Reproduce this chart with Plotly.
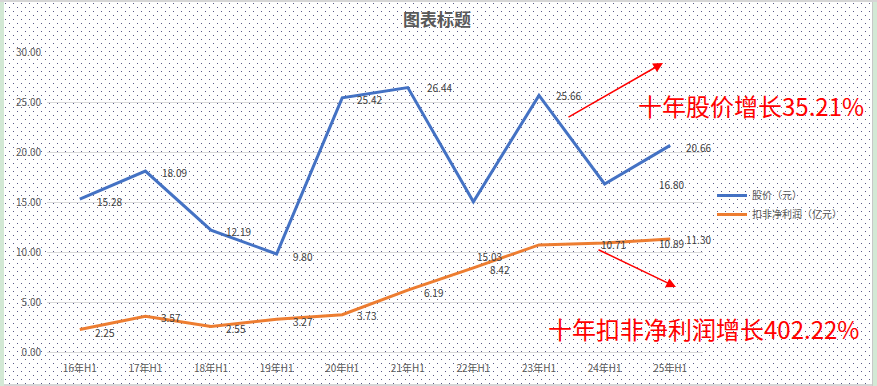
import base64
import plotly.graph_objects as go

# ---------------- data ----------------
categories = ["16年H1", "17年H1", "18年H1", "19年H1", "20年H1",
              "21年H1", "22年H1", "23年H1", "24年H1", "25年H1"]
price = [15.28, 18.09, 12.19, 9.80, 25.42, 26.44, 15.03, 25.66, 16.80, 20.66]
profit = [2.25, 3.57, 2.55, 3.27, 3.73, 6.19, 8.42, 10.71, 10.89, 11.30]
series_names = ["股价（元）", "扣非净利润（亿元）"]
title_text = "图表标题"
note_price = "十年股价增长35.21%"
note_profit = "十年扣非净利润增长402.22%"

# label pixel offsets (dx right, dy down) as placed in the original chart
price_label_dx = [15, 15, 13, 14, 13, 17, 2, 15, 52, 14]
price_label_dy = [2, 1, 1, 2, 2, 0, 55, 0, 0, 2]
profit_label_dx = [13, 14, 13, 14, 13, 14, 15, 60, 52, 14]
profit_label_dy = [3, 1, 2, 2, 1, 2, 2, 0, 0, 0]

# ---------------- geometry ----------------
W, H = 877, 386
ML, MR, MT, MB = 47, 174, 52, 34
PW = W - ML - MR
PH = H - MT - MB


def px(x):
    return (x - ML) / PW


def py(y):
    return (H - MB - y) / PH


FONT = "Microsoft YaHei, Noto Sans CJK SC, sans-serif"

# ---------------- background (dotted pattern like Excel) ----------------
svg = f'''<svg xmlns="http://www.w3.org/2000/svg" width="{W}" height="{H}" viewBox="0 0 {W} {H}" shape-rendering="crispEdges">
<defs><pattern id="p" x="0" y="0" width="8" height="8" patternUnits="userSpaceOnUse">
<rect x="5" y="3" width="1" height="1" fill="#5a5a86"/>
<rect x="1" y="7" width="1" height="1" fill="#5a5a86"/>
</pattern></defs>
<rect x="0" y="0" width="{W}" height="{H}" fill="#ffffff"/>
<rect x="4" y="2" width="868" height="382" fill="url(#p)"/>
<rect x="0" y="0" width="4" height="{H}" fill="#d3e9d5"/>
<rect x="873" y="0" width="4" height="{H}" fill="#d3e9d5"/>
<rect x="872" y="0" width="1" height="{H}" fill="#c8c8c8"/>
<rect x="0" y="0" width="{W}" height="2" fill="#d6d6d6"/>
<rect x="4" y="384" width="868" height="2" fill="#d6d6d6"/>
</svg>'''
src = "data:image/svg+xml;base64," + base64.b64encode(svg.encode()).decode()

fig = go.Figure()

fig.add_trace(go.Scatter(
    x=categories, y=price, name=series_names[0], mode="lines",
    line=dict(color="#4472c4", width=3), cliponaxis=False,
))
fig.add_trace(go.Scatter(
    x=categories, y=profit, name=series_names[1], mode="lines",
    line=dict(color="#ed7d31", width=3), cliponaxis=False,
))

# data labels
for vals, dxs, dys in ((price, price_label_dx, price_label_dy),
                       (profit, profit_label_dx, profit_label_dy)):
    for c, v, dx, dy in zip(categories, vals, dxs, dys):
        fig.add_annotation(x=c, y=v, xref="x", yref="y", text=f"{v:.2f}",
                           showarrow=False, xanchor="left", yanchor="middle",
                           xshift=dx, yshift=-dy,
                           font=dict(family=FONT, size=10, color="#404040"))

fig.update_layout(
    width=W, height=H,
    margin=dict(l=ML, r=MR, t=MT, b=MB),
    paper_bgcolor="#ffffff",
    plot_bgcolor="rgba(0,0,0,0)",
    font=dict(family=FONT, size=10, color="#595959"),
    title=dict(text=f"<b>{title_text}</b>", x=437 / W, xanchor="center",
               y=1 - 20 / H, yanchor="middle",
               font=dict(family=FONT, size=17, color="#595959")),
    images=[dict(source=src, xref="paper", yref="paper",
                 x=px(0), y=py(0), sizex=W / PW, sizey=H / PH,
                 xanchor="left", yanchor="top", sizing="stretch",
                 layer="below")],
    xaxis=dict(type="category", showgrid=False, showline=False,
               ticks="", ticklabelstandoff=9,
               tickfont=dict(family=FONT, size=10, color="#595959"),
               range=[-0.5, 9.5]),
    yaxis=dict(range=[0, 30], dtick=5, tickformat=".2f",
               showgrid=True, gridcolor="#d9d9d9", gridwidth=1,
               zeroline=True, zerolinecolor="#d9d9d9", zerolinewidth=1,
               showline=False, ticks="", ticklen=0, ticklabelstandoff=5,
               tickfont=dict(family=FONT, size=10, color="#595959")),
    legend=dict(x=px(712), y=py(205), xanchor="left", yanchor="middle",
                bgcolor="rgba(0,0,0,0)", font=dict(family=FONT, size=10, color="#595959"),
                tracegroupgap=0, itemwidth=30),
    showlegend=True,
)

fig.add_annotation(x=px(663), y=py(63), xref="paper", yref="paper",
                   ax=567 - 663, ay=118 - 63, showarrow=True,
                   arrowhead=2, arrowsize=1.3, arrowwidth=1.5, arrowcolor="#ff0000", text="")
fig.add_annotation(x=px(676), y=py(287), xref="paper", yref="paper",
                   ax=597 - 676, ay=249 - 287, showarrow=True,
                   arrowhead=2, arrowsize=1.3, arrowwidth=1.5, arrowcolor="#ff0000", text="")
fig.add_annotation(x=px(636), y=py(105), xref="paper", yref="paper",
                   xanchor="left", yanchor="middle", showarrow=False,
                   text=note_price, font=dict(family=FONT, size=24, color="#ff0000"))
fig.add_annotation(x=px(546), y=py(328), xref="paper", yref="paper",
                   xanchor="left", yanchor="middle", showarrow=False,
                   text=note_profit, font=dict(family=FONT, size=24, color="#ff0000"))

fig.write_html("out.html", config={"displayModeBar": False},
               post_script="document.body.style.margin='0';document.body.style.overflow='hidden';")
